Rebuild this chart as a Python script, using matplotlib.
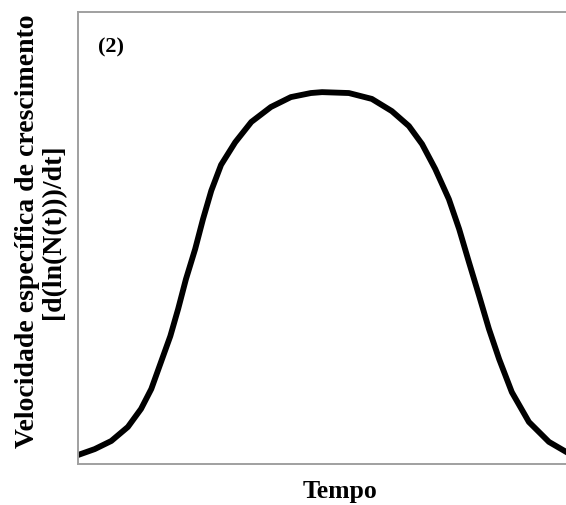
import matplotlib.pyplot as plt

# tempo (unidades arbitrarias) e velocidade especifica
tempo = [0.00, 0.34, 0.68, 1.02, 1.29, 1.50, 1.70, 1.89, 2.05, 2.21, 2.40, 2.56, 2.73,
         2.93, 3.22, 3.55, 3.95, 4.36, 4.77, 5.00, 5.55, 6.02, 6.43, 6.78, 7.05, 7.32,
         7.60, 7.81, 8.01, 8.22, 8.42, 8.63, 8.89, 9.24, 9.65, 10.0]
velocidade = [0.020, 0.033, 0.051, 0.082, 0.122, 0.166, 0.226, 0.283, 0.343, 0.409, 0.476,
              0.542, 0.605, 0.662, 0.712, 0.757, 0.790, 0.812, 0.821, 0.823, 0.821, 0.808,
              0.781, 0.748, 0.708, 0.653, 0.586, 0.520, 0.447, 0.372, 0.299, 0.232, 0.159,
              0.093, 0.049, 0.027]

plt.rcParams['font.family'] = ['Liberation Serif', 'DejaVu Serif']

fig = plt.figure(figsize=(5.66, 5.06), dpi=100)
ax = fig.add_axes([0.138, 0.081, 0.862, 0.893])

ax.plot(tempo, velocidade, color='black', lw=4.2, solid_joinstyle='round')
ax.set_xlim(0, 10)
ax.set_ylim(0, 1)
ax.set_xticks([])
ax.set_yticks([])
for s in ['left', 'top', 'bottom']:
    ax.spines[s].set_color('#a0a0a0')
    ax.spines[s].set_linewidth(1.4)
ax.spines['right'].set_visible(False)

ax.text(0.04, 0.925, '(2)', transform=ax.transAxes, fontsize=16, fontweight='bold',
        ha='left', va='center')

fig.text(0.6, 0.028, 'Tempo', fontsize=18.5, fontweight='bold', ha='center', va='center')
fig.text(0.072, 0.542, 'Velocidade específica de crescimento\n[d(ln(N(t)))/dt]',
         rotation=90, fontsize=20, fontweight='bold', ha='center', va='center',
         multialignment='center', linespacing=1.05)

fig.savefig('out.png', dpi=100)
